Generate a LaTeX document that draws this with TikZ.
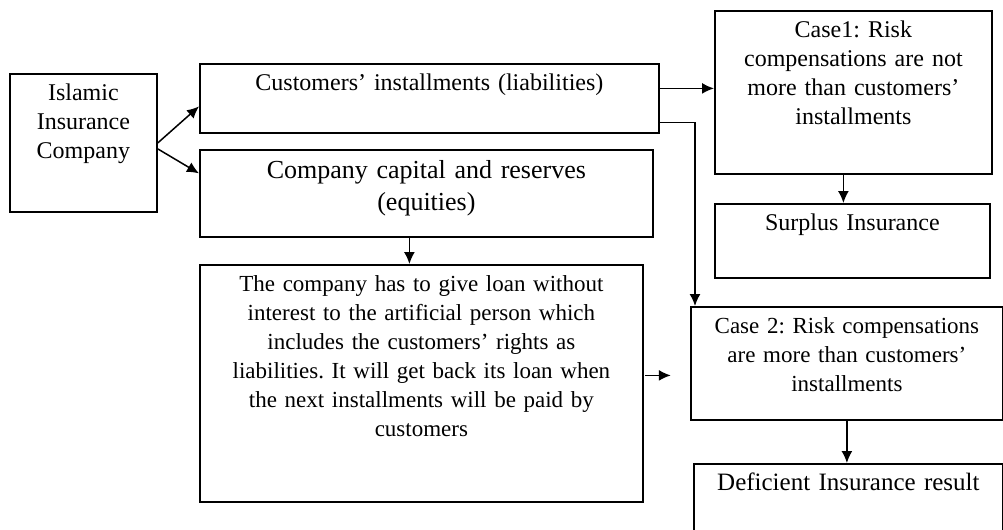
\documentclass[tikz,border=0pt]{standalone}
\usepackage{fontspec}
\setmainfont{Liberation Serif}
\usetikzlibrary{arrows.meta,calc}
\frenchspacing

\begin{document}
\begin{tikzpicture}[x=0.5pt, y=-0.5pt,
            every node/.style={draw, line width=0.9pt, anchor=north west, align=center,
                               inner sep=0pt, text height=13.5pt,
                               font=\fontsize{12}{14.5}\selectfont},
            flow/.style={draw, line width=0.75pt, -{Latex[length=6pt,width=5.5pt]}}]
        \clip (0,0) rectangle (1003,530);

        % boxes, placed by their top left corner
        \node[text width=73.5pt, text depth=55.5pt] (company) at (9,73) {Islamic\\Insurance\\Company};
        \node[text width=229.5pt, text depth=21pt] (liab) at (199,63) {Customers' installments (liabilities)};
        \node[text width=226.5pt, text height=14.5pt, text depth=29pt,
              font=\fontsize{13}{16}\selectfont] (equity) at (199,149) {Company capital and reserves\\(equities)};
        \node[text width=138.5pt, text depth=68pt] (case1) at (714,10) {Case1: Risk\\compensations are not\\more than customers'\\installments};
        \node[text width=137.5pt, text depth=23.5pt] (surplus) at (714,203) {Surplus Insurance};
        \node[text width=221.5pt, text depth=105pt,
              font=\fontsize{11.5}{14.5}\selectfont] (loan) at (199,264) {The company has to give loan without\\interest to the artificial person which\\includes the customers' rights as\\liabilities. It will get back its loan when\\the next installments will be paid by\\customers};
        \node[text width=156pt, text depth=43pt,
              font=\fontsize{11.5}{14.5}\selectfont] (case2) at (690,306) {Case 2: Risk compensations\\are more than customers'\\installments};
        \node[text width=154.5pt, text depth=26.5pt,
              font=\fontsize{12.5}{15}\selectfont] (deficient) at (693,463) {Deficient Insurance result};

        % connector ends
        \coordinate (liab top) at ($(liab.east)+(0,-10)$);
        \coordinate (liab low) at ($(liab.east)+(0,24)$);
        \coordinate (case1 out) at ($(case1.south)+(-10,0)$);
        \coordinate (equity out) at ($(equity.south)+(-17,0)$);
        \coordinate (loan out) at ($(loan.east)+(1,-8)$);
        \coordinate (loan end) at ($(loan.east)+(27,-8)$);

        \draw[flow] (company.east) -- ($(liab.west)+(0,8)$);
        \draw[flow] ($(company.east)+(0,6)$) -- ($(equity.west)+(0,-20)$);
        \draw[flow] (liab top) -- (liab top -| case1.west);
        \draw[flow] (liab low) -| ($(case2.north west)+(5,0)$);
        \draw[flow] (case1 out) -- (case1 out |- surplus.north);
        \draw[flow] (equity out) -- (equity out |- loan.north);
        \draw[flow] (loan out) -- (loan end);
        \draw[flow] (case2.south) -- (case2.south |- deficient.north);
\end{tikzpicture}
\end{document}
